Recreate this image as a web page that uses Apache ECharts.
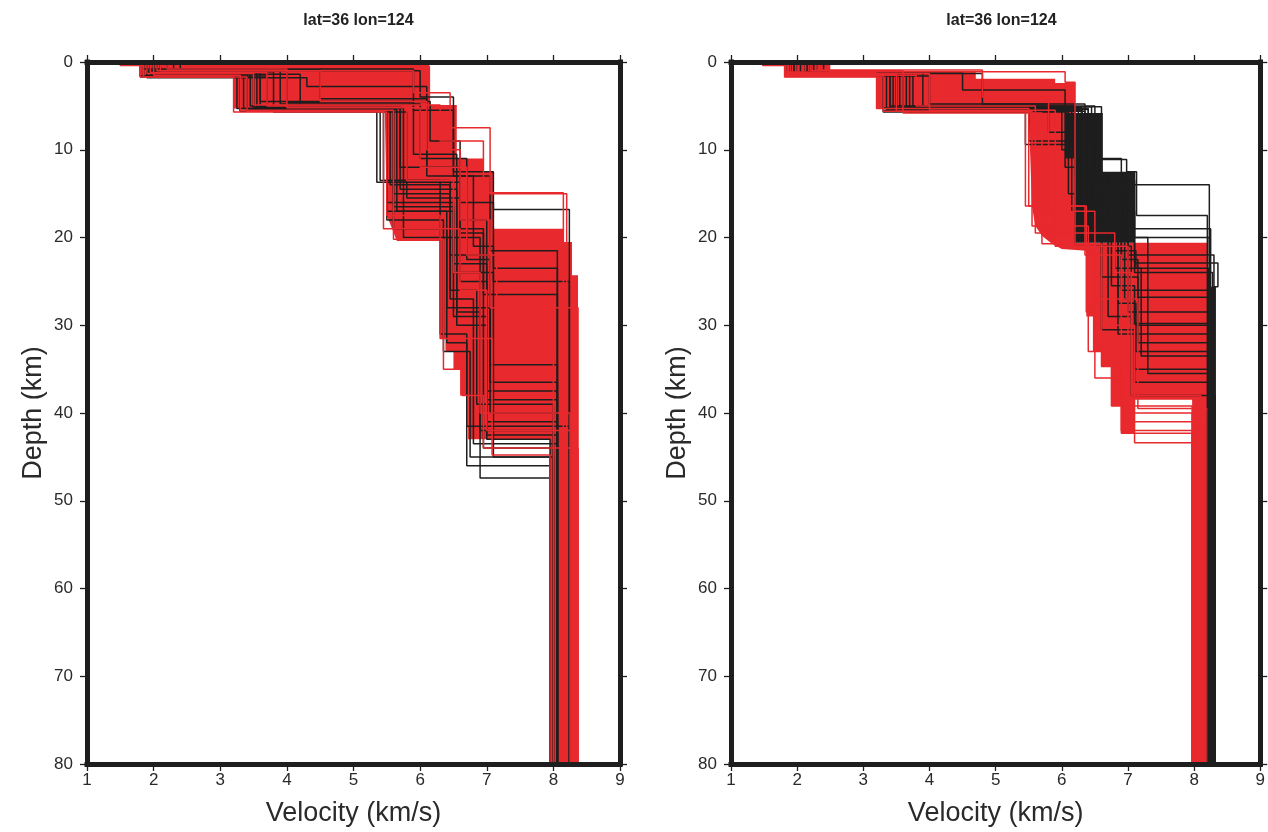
<!DOCTYPE html>
<html>
<head>
<meta charset="utf-8">
<script src="https://cdn.jsdelivr.net/npm/echarts@6/dist/echarts.min.js"></script>
<style>
html,body{margin:0;padding:0;background:#fff;}
#chart{width:1268px;height:832px;}
</style>
</head>
<body>
<div id="chart"></div>
<script>
// ---------- DATA ----------
const titles = ['lat=36 lon=124', 'lat=36 lon=124'];
const velocityTicks = [1, 2, 3, 4, 5, 6, 7, 8, 9];
const depthTicks = [0, 10, 20, 30, 40, 50, 60, 70, 80];
const maxDepth = 80;

// each profile: [v0, d1, v1, d2, v2, ..., vLast]  (velocity km/s, layer-bottom depth km)
const leftBlackProfiles = [
  [1.85,1.6, 3.3,5.6, 5.45,13.5, 6.45,22.0, 7.05,40.0, 8.06],
  [2.0,1.2, 3.6,5.0, 5.7,12.0, 6.6,18.0, 7.0,43.0, 7.95],
  [1.9,1.5, 3.25,5.3, 5.5,16.0, 6.5,24.0, 7.1,45.0, 8.0],
  [2.1,1.0, 4.0,4.6, 5.9,10.5, 6.55,20.0, 6.9,47.4, 7.95],
  [1.8,1.7, 3.4,5.5, 5.6,19.0, 6.4,28.0, 7.05,36.5, 8.06],
  [2.3,0.9, 4.5,4.2, 6.1,13.0, 6.8,21.0, 7.1,25.0, 8.24],
  [1.95,1.4, 3.5,5.2, 5.35,13.7, 6.6,19.5, 6.95,44.0, 8.0],
  [2.05,1.1, 3.8,5.7, 5.8,15.5, 6.6,25.0, 7.0,41.0, 8.06],
  [1.9,1.0, 6.0,4.0, 6.5,12.5, 7.1,16.8, 8.24],
  [2.0,1.5, 3.3,5.5, 5.5,18.0, 6.35,33.0, 6.75,45.0, 7.95],
  [1.8,1.6, 3.7,5.4, 5.65,17.0, 6.5,29.0, 7.0,42.5, 8.06],
  [2.2,1.0, 3.9,4.8, 6.0,11.0, 6.7,22.5, 7.05,34.5, 8.06],
  [1.9,1.2, 3.45,5.0, 5.55,14.0, 6.45,26.0, 6.85,39.0, 8.0],
  [2.1,1.4, 4.2,5.6, 5.4,13.5, 6.3,31.0, 6.7,46.0, 7.95],
  [1.85,0.8, 3.6,4.5, 6.15,9.0, 6.6,16.0, 7.1,23.5, 8.06],
  [2.0,1.3, 3.35,5.3, 5.75,20.0, 6.55,30.0, 7.0,37.5, 8.06],
  [2.4,0.8, 5.9,5.5, 6.5,13.0, 7.05,21.5, 8.06],
  [1.9,1.8, 4.3,2.8, 6.1,12.0, 6.6,19.0, 6.95,26.5, 8.06],
  [1.95,1.2, 3.5,5.4, 5.6,15.0, 6.45,27.0, 6.8,43.5, 8.06],
  [2.05,1.5, 3.3,5.6, 5.5,17.0, 6.4,32.0, 6.7,41.5, 8.24],
  [2.0,1.4, 3.4,5.4, 5.6,16.5, 6.5,23.0, 7.0,38.5, 8.06],
  [1.9,1.1, 3.55,5.1, 5.7,14.5, 6.55,28.5, 6.9,42.0, 8.0]
];
const leftRedProfiles = [
  [1.5,0.4, 1.85,1.7, 3.2,5.7, 5.5,17.5, 6.3,31.5, 7.08,44.8, 7.95],
  [2.1,1.0, 5.9,3.5, 6.45,7.5, 7.05,15.0, 8.2],
  [1.9,1.3, 3.5,4.9, 6.3,9.0, 6.95,14.9, 8.15],
  [2.0,1.5, 3.3,5.5, 5.6,20.2, 6.35,35.0, 6.63,38.0, 6.95,44.0, 8.37],
  [1.8,1.7, 3.4,5.6, 5.45,19.0, 6.6,26.0, 7.0,42.0, 8.3],
  [2.2,0.8, 4.0,5.2, 6.0,12.0, 6.7,22.0, 7.15,33.0, 8.0],
  [1.95,1.2, 3.7,5.0, 5.8,13.5, 6.5,24.0, 6.9,40.0, 8.25],
  [2.05,1.0, 4.5,4.5, 6.1,10.0, 6.6,18.0, 7.05,28.0, 8.37]
];
const rightBlackProfiles = [
  [2.0,1.2, 3.3,5.5, 6.3,11.0, 6.9,20.0, 7.3,26.0, 8.3],
  [2.3,1.1, 3.6,5.2, 6.3,11.1, 6.98,12.5, 7.13,14.0, 8.23],
  [1.9,1.5, 3.4,5.6, 5.45,9.4, 6.5,17.0, 7.1,22.9, 8.36,25.6, 8.3],
  [2.1,1.2, 3.75,5.0, 6.2,13.0, 6.7,21.0, 7.05,30.0, 8.3],
  [2.2,1.2, 4.5,3.2, 6.05,12.0, 6.6,19.0, 7.1,24.0, 8.28],
  [1.85,1.6, 4.0,4.8, 5.8,8.0, 6.55,18.0, 7.0,28.5, 8.25],
  [2.4,1.1, 3.5,5.4, 6.4,14.0, 7.13,17.5, 8.2],
  [2.0,1.4, 3.3,5.7, 6.1,15.0, 6.8,23.5, 7.2,33.5, 8.3],
  [2.1,1.1, 3.9,5.1, 6.6,13.5, 7.1,19.0, 8.25],
  [1.95,1.3, 3.45,5.5, 6.25,16.0, 6.9,26.0, 7.3,35.5, 8.22],
  [2.25,1.15, 3.7,5.3, 6.0,10.0, 6.45,20.0, 6.85,31.0, 8.3],
  [1.9,1.5, 3.55,5.6, 6.3,18.0, 6.95,27.0, 7.1,36.5, 8.27],
  [2.3,1.2, 3.4,5.0, 6.5,12.6, 7.1,20.0, 8.23],
  [2.0,1.2, 3.35,5.4, 5.5,9.0, 6.2,21.0, 6.7,29.0, 7.05,38.0, 8.32],
  [2.15,1.3, 4.8,4.8, 6.35,15.5, 7.0,22.0, 8.3],
  [1.9,1.4, 3.3,5.2, 6.15,17.0, 6.6,24.5, 7.15,32.0, 8.26],
  [2.05,1.25, 3.5,5.5, 6.3,14.5, 6.8,21.5, 7.12,23.5, 8.22],
  [2.2,1.35, 3.6,5.3, 6.4,16.5, 6.9,22.5, 7.15,26.8, 8.24],
  [1.95,1.45, 3.4,5.6, 6.35,19.0, 6.75,25.5, 7.1,29.8, 8.25],
  [2.1,1.2, 3.65,5.1, 6.45,18.5, 6.85,27.5, 7.12,33.0, 8.23],
  [2.0,1.5, 3.5,5.4, 6.3,20.0, 6.6,30.5, 7.1,35.0, 8.24]
];
const rightRedProfiles = [
  [1.48,0.4, 1.81,1.7, 3.2,5.3, 5.5,16.4, 6.37,28.5, 6.6,34.7, 6.9,42.3, 7.97],
  [2.49,1.1, 6.05,2.3, 6.2,21.0, 7.0,40.0, 7.97],
  [1.9,1.6, 3.3,5.6, 5.55,18.7, 6.4,33.0, 6.75,39.2, 7.97],
  [2.2,1.0, 3.6,5.8, 5.7,20.7, 6.6,30.0, 7.1,43.4, 7.97],
  [2.1,1.3, 4.0,5.5, 5.9,21.0, 6.5,36.0, 6.95,41.0, 8.0],
  [1.85,1.5, 3.8,5.0, 5.6,19.5, 6.8,24.0, 7.05,38.0, 8.1],
  [2.3,0.9, 4.8,4.0, 5.8,17.0, 6.5,27.0, 7.15,39.5, 8.2],
  [2.0,1.4, 3.5,5.6, 5.45,16.4, 6.35,22.0, 6.9,42.0, 8.15]
];

// dense-ensemble envelopes [velocity, depth]
const leftRedEnvelope = [[1.5,0],[6.1,0],[6.15,0.5],[6.15,4.9],[6.55,4.9],[6.55,11.0],[6.95,11.0],[6.95,12.5],[7.1,12.5],[7.1,19.0],[8.15,19.0],[8.15,20.5],[8.28,20.5],[8.28,24.3],[8.37,24.3],[8.37,80],[7.95,80],[7.95,43.0],[6.72,43.0],[6.72,38],[6.6,38],[6.6,35],[6.5,35],[6.5,33],[6.38,33],[6.38,31.5],[6.3,31.5],[6.3,20.4],[5.65,20.4],[5.6,19.4],[5.5,17.5],[5.47,5.7],[3.4,5.7],[3.4,5.3],[3.2,5.3],[3.2,1.7],[1.8,1.7],[1.8,0.4],[1.5,0.4]];
const rightRedEnvelope = [[1.48,0],[2.49,0],[2.49,1.1],[4.7,1.1],[4.7,1.9],[5.9,1.9],[5.9,2.4],[6.2,2.4],[6.2,20.6],[8.2,20.6],[8.2,80],[7.97,80],[7.97,38.5],[7.1,38.5],[7.1,42.3],[6.9,42.3],[6.9,39.2],[6.75,39.2],[6.75,34.7],[6.6,34.7],[6.6,33],[6.47,33],[6.47,29],[6.37,29],[6.37,21.5],[6.0,21.3],[5.85,20.7],[5.7,19.8],[5.6,18.7],[5.55,16.5],[5.5,5.8],[3.65,5.8],[3.65,5.3],[3.2,5.3],[3.2,1.7],[1.81,1.7],[1.81,0.4],[1.48,0.4]];
const rightRedTopBand = [[1.81,1.05],[3.2,1.05],[3.2,1.75],[1.81,1.75]];
const rightBlackEnvelope = [[6.05,5.8],[6.62,5.8],[6.62,12.6],[7.1,12.6],[7.1,20.6],[6.2,20.6],[6.2,11],[6.05,11]];
const rightBlackMantle = [[8.2,25.6],[8.33,25.6],[8.33,80],[8.2,80]];

// ---------- STYLE ----------
const RED = '#e8292d';
const BLACK = '#1e1e1e';
const FONT = 'Liberation Sans';

function steps(p) {
  const pts = [[p[0], 0]];
  for (let i = 1; i < p.length; i += 2) {
    pts.push([p[i - 1], p[i]]);
    pts.push([p[i + 1], p[i]]);
  }
  pts.push([p[p.length - 1], maxDepth]);
  return pts;
}
function lineSeries(profiles, color, g, z, w) {
  return profiles.map(p => ({
    type: 'line', xAxisIndex: g * 2, yAxisIndex: g * 2, data: steps(p),
    symbol: 'none', silent: true, animation: false, z: z,
    lineStyle: { color: color, width: w }
  }));
}
function polySeries(points, color, g, z) {
  return {
    type: 'custom', xAxisIndex: g * 2, yAxisIndex: g * 2, data: points,
    silent: true, animation: false, z: z,
    encode: { x: 0, y: 1 },
    renderItem: function (params, api) {
      if (params.dataIndex !== 0) return null;
      return { type: 'polygon', shape: { points: points.map(p => api.coord(p)) },
               style: { fill: color } };
    }
  };
}

const grids = [
  { left: 87, top: 62, width: 533, height: 706 },
  { left: 731, top: 62, width: 531, height: 706 }
];
const frameLine = { show: true, onZero: false, lineStyle: { color: BLACK, width: 5, cap: 'square' } };
const tick = { show: true, inside: false, length: 7, lineStyle: { color: BLACK, width: 1.3 } };

const xAxes = [], yAxes = [];
grids.forEach((g, i) => {
  xAxes.push({
    gridIndex: i, type: 'value', min: velocityTicks[0], max: velocityTicks[velocityTicks.length - 1], interval: 1,
    position: 'bottom', z: 10, axisLine: frameLine, axisTick: tick, splitLine: { show: false },
    axisLabel: { fontFamily: FONT, fontSize: 17, color: '#2a2a2a', margin: 8 },
    name: 'Velocity (km/s)', nameLocation: 'middle', nameGap: 36,
    nameTextStyle: { fontFamily: FONT, fontSize: 27, color: '#2a2a2a' }
  });
  xAxes.push({
    gridIndex: i, type: 'value', min: 1, max: 9, interval: 1, position: 'top', z: 10,
    axisLine: frameLine, axisTick: tick, splitLine: { show: false }, axisLabel: { show: false }
  });
  yAxes.push({
    gridIndex: i, type: 'value', inverse: true, min: depthTicks[0], max: depthTicks[depthTicks.length - 1], interval: 10,
    position: 'left', z: 10, axisLine: frameLine, axisTick: tick, splitLine: { show: false },
    axisLabel: { fontFamily: FONT, fontSize: 17, color: '#2a2a2a', margin: 14 },
    name: 'Depth (km)', nameLocation: 'middle', nameGap: 40,
    nameTextStyle: { fontFamily: FONT, fontSize: 27, color: '#2a2a2a' }
  });
  yAxes.push({
    gridIndex: i, type: 'value', inverse: true, min: 0, max: 80, interval: 10, position: 'right', z: 10,
    axisLine: frameLine, axisTick: tick, splitLine: { show: false }, axisLabel: { show: false }
  });
});

const series = [].concat(
  [polySeries(leftRedEnvelope, RED, 0, 1)],
  lineSeries(leftBlackProfiles, BLACK, 0, 2, 1.5),
  lineSeries(leftRedProfiles, RED, 0, 3, 1.5),
  [polySeries(rightRedEnvelope, RED, 1, 1), polySeries(rightBlackEnvelope, BLACK, 1, 1)],
  lineSeries(rightBlackProfiles, BLACK, 1, 2, 1.5),
  [polySeries(rightRedTopBand, RED, 1, 3)],
  lineSeries(rightRedProfiles, RED, 1, 3, 1.5),
  [polySeries(rightBlackMantle, BLACK, 1, 4)]
);

const chart = echarts.init(document.getElementById('chart'), null, { renderer: 'canvas' });
chart.setOption({
  animation: false,
  backgroundColor: '#ffffff',
  title: titles.map((t, i) => ({
    text: t, left: grids[i].left + grids[i].width / 2, top: 8, textAlign: 'center',
    textStyle: { fontFamily: FONT, fontSize: 16, fontWeight: 'bold', color: '#222' }
  })),
  grid: grids,
  xAxis: xAxes,
  yAxis: yAxes,
  series: series
});
</script>
</body>
</html>
